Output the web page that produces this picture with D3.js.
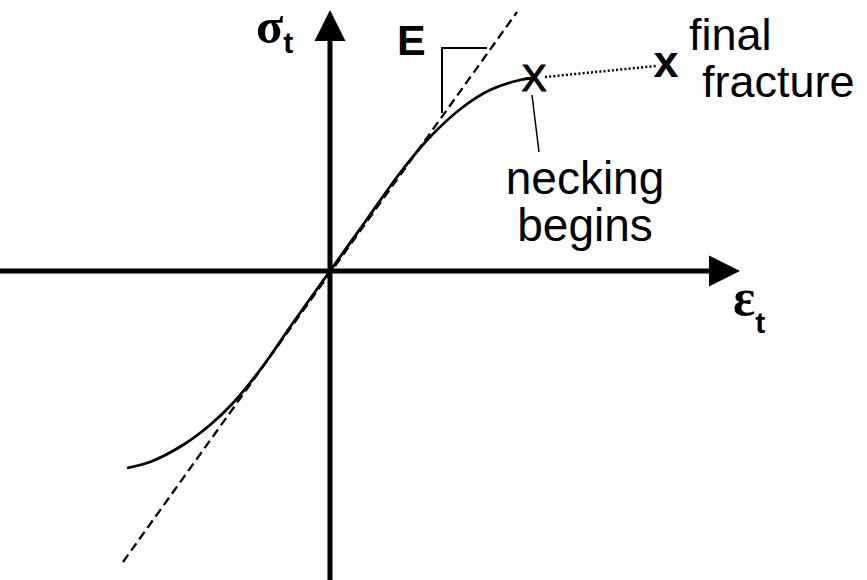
<!DOCTYPE html>
<html lang="en">
<head>
    <meta charset="UTF-8">
    <title>True stress-strain</title>
    <script src="https://cdn.jsdelivr.net/npm/d3@7"></script>
    <style>
        body { margin: 0; background: #fff; }
        text { font-family: "Liberation Sans", Arial, Helvetica, sans-serif; fill: #000; }
    </style>
</head>
<body>
    <svg width="867" height="580" id="mainsvg" style="display: block;"></svg>
    <script>
        // true strain / true stress, arbitrary units (origin at 0,0)
        const curveStrain = [-2.03, -1.80, -1.47, -1.20, -0.97, -0.70, -0.35, 0, 0.35, 0.70, 1.00, 1.33, 1.60, 1.90, 2.04];
        const curveStress = [-1.97, -1.91, -1.74, -1.54, -1.32, -0.99, -0.49, 0, 0.49, 0.98, 1.34, 1.64, 1.81, 1.91, 1.93];
        const modulusStrain = [-2.07, 1.87];
        const modulusStress = [-2.91, 2.59];
        const neckingPoint = [2.04, 1.93];
        const fracturePoint = [3.36, 2.06];

        const svg = d3.select("#mainsvg");
        const width = +svg.attr("width");
        const height = +svg.attr("height");

        // 100 px per unit, origin at (330, 271)
        const x = d3.scaleLinear().domain([-3.30, 5.37]).range([0, width]);
        const y = d3.scaleLinear().domain([-3.09, 2.71]).range([height, 0]);

        const ox = x(0), oy = y(0);

        // axes
        svg.append("line")
            .attr("x1", 0).attr("y1", oy)
            .attr("x2", 712).attr("y2", oy)
            .attr("stroke", "#000").attr("stroke-width", 5);
        svg.append("path")
            .attr("d", `M740,${oy} L709,${oy - 15.5} L709,${oy + 15.5} Z`)
            .attr("fill", "#000");

        svg.append("line")
            .attr("x1", ox).attr("y1", height)
            .attr("x2", ox).attr("y2", 38)
            .attr("stroke", "#000").attr("stroke-width", 5);
        svg.append("path")
            .attr("d", `M${ox},10 L${ox - 15.5},41 L${ox + 15.5},41 Z`)
            .attr("fill", "#000");

        // elastic modulus line
        svg.append("line")
            .attr("x1", x(modulusStrain[0])).attr("y1", y(modulusStress[0]))
            .attr("x2", x(modulusStrain[1])).attr("y2", y(modulusStress[1]))
            .attr("stroke", "#000").attr("stroke-width", 2.3)
            .attr("stroke-dasharray", "9,5");

        // slope bracket
        svg.append("path")
            .attr("d", "M442,113 L442,48 L487,48")
            .attr("fill", "none").attr("stroke", "#000").attr("stroke-width", 2);

        // stress-strain curve
        const pts = curveStrain.map((d, i) => [d, curveStress[i]]);
        const line = d3.line().x(d => x(d[0])).y(d => y(d[1])).curve(d3.curveCatmullRom);
        svg.append("path")
            .attr("d", line(pts))
            .attr("fill", "none").attr("stroke", "#000").attr("stroke-width", 2.8);

        // necking -> fracture dotted
        svg.append("line")
            .attr("x1", x(neckingPoint[0]) + 11).attr("y1", y(neckingPoint[1]) - 1)
            .attr("x2", x(fracturePoint[0]) - 10).attr("y2", y(fracturePoint[1]) + 1)
            .attr("stroke", "#000").attr("stroke-width", 2.5)
            .attr("stroke-dasharray", "2,2.2");

        // markers
        svg.append("text")
            .attr("x", x(neckingPoint[0])).attr("y", y(neckingPoint[1]) + 13)
            .attr("text-anchor", "middle")
            .attr("font-size", 37)
            .attr("stroke", "#000").attr("stroke-width", 1.2)
            .text("X");
        svg.append("text")
            .attr("x", x(fracturePoint[0])).attr("y", y(fracturePoint[1]) + 12)
            .attr("text-anchor", "middle")
            .attr("font-size", 45).attr("font-weight", "bold")
            .text("x");

        // leader line
        svg.append("line")
            .attr("x1", 532).attr("y1", 95)
            .attr("x2", 539).attr("y2", 152)
            .attr("stroke", "#000").attr("stroke-width", 1.5);

        // labels
        svg.append("text")
            .attr("x", 585).attr("y", 194)
            .attr("text-anchor", "middle").attr("font-size", 46)
            .text("necking");
        svg.append("text")
            .attr("x", 585).attr("y", 241)
            .attr("text-anchor", "middle").attr("font-size", 46)
            .text("begins");

        svg.append("text")
            .attr("x", 689).attr("y", 50)
            .attr("font-size", 45)
            .text("final");
        svg.append("text")
            .attr("x", 702).attr("y", 97)
            .attr("font-size", 45)
            .text("fracture");

        svg.append("text")
            .attr("x", 397).attr("y", 55)
            .attr("font-size", 43).attr("font-weight", "bold")
            .text("E");

        const sig = svg.append("text")
            .attr("x", 256).attr("y", 43)
            .attr("font-weight", "bold");
        sig.append("tspan")
            .attr("font-family", "'Liberation Serif', 'DejaVu Serif', serif")
            .attr("font-size", 50)
            .text("σ");
        sig.append("tspan")
            .attr("font-size", 30).attr("dy", 10)
            .text("t");

        const eps = svg.append("text")
            .attr("x", 733).attr("y", 315)
            .attr("font-weight", "bold");
        eps.append("tspan")
            .attr("font-family", "'Liberation Serif', 'DejaVu Serif', serif")
            .attr("font-size", 52)
            .text("ε");
        eps.append("tspan")
            .attr("font-size", 30).attr("dy", 18)
            .text("t");
    </script>
</body>
</html>
